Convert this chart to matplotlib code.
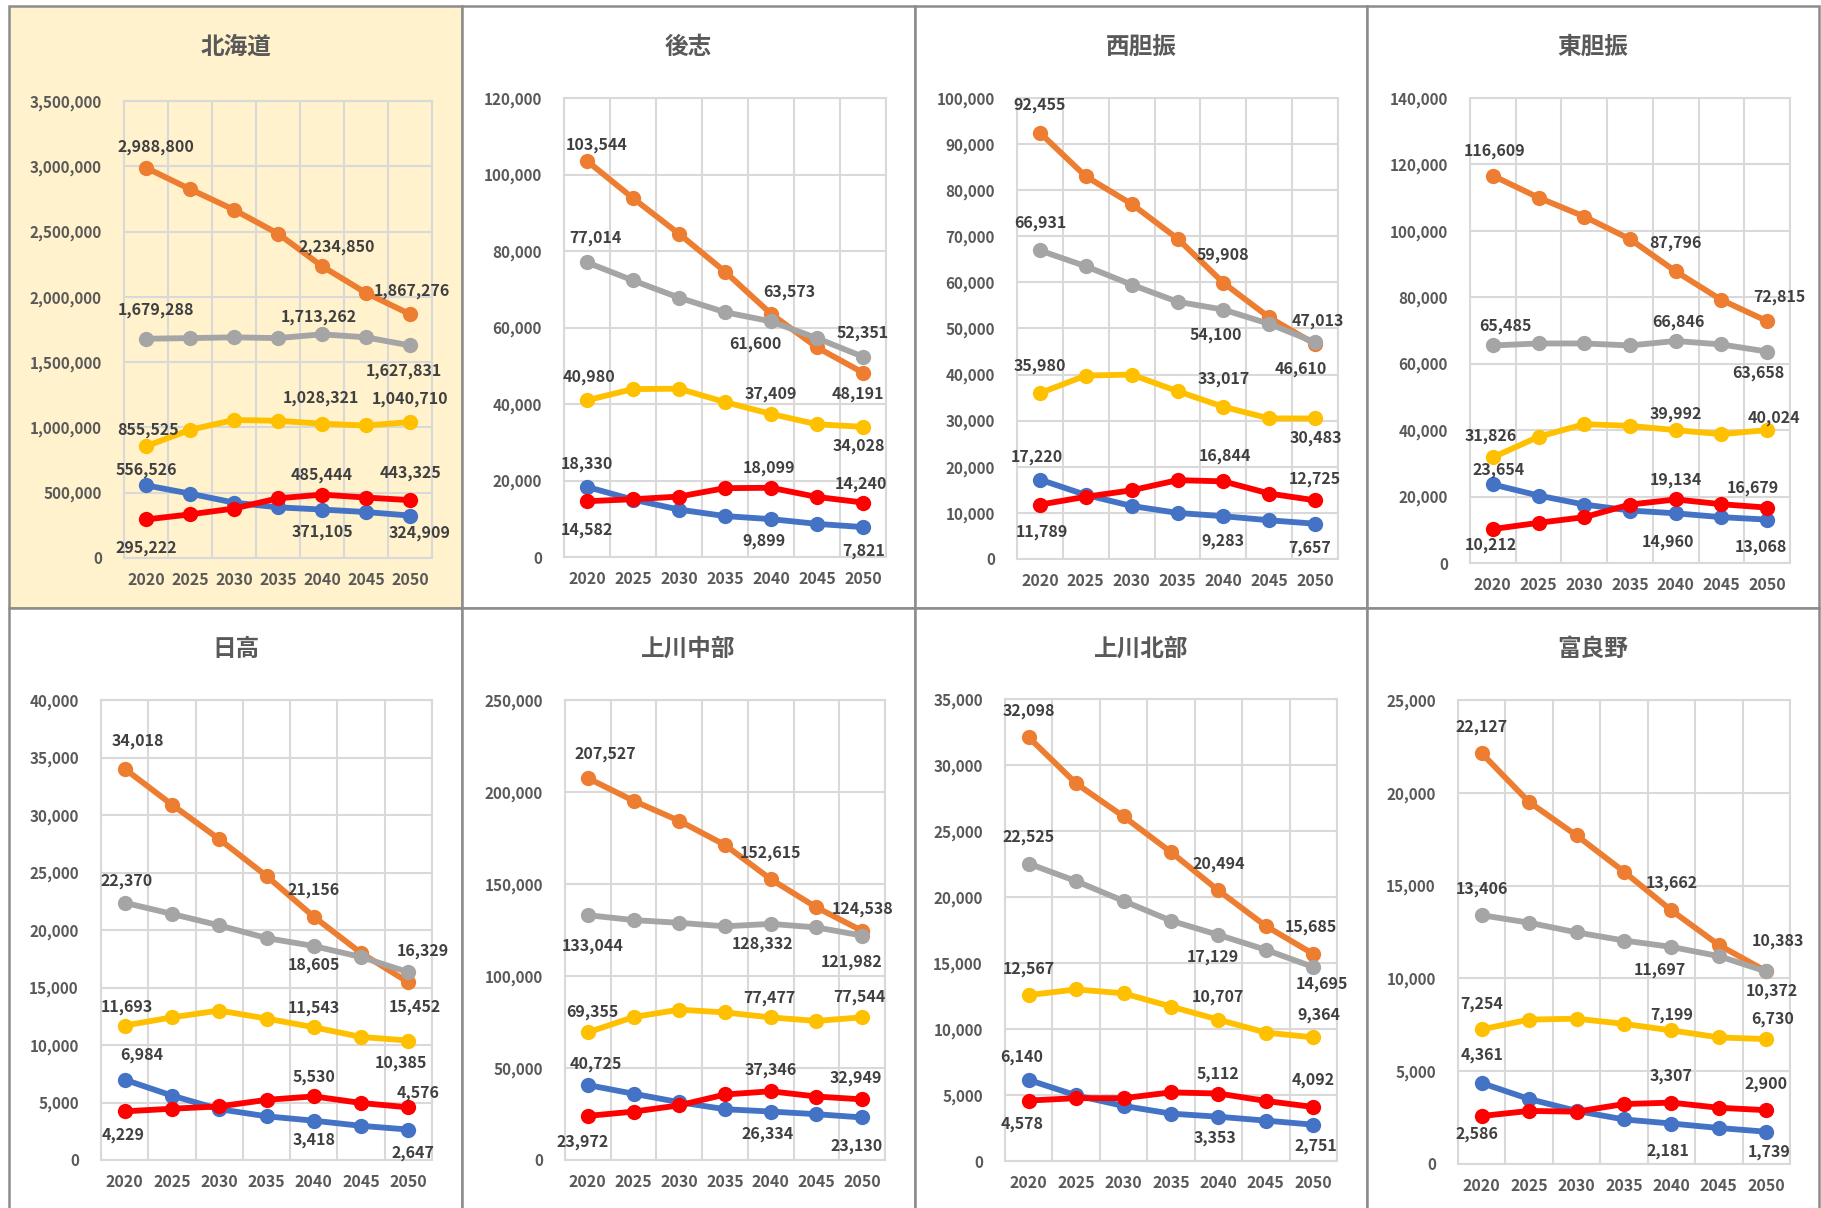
"""Hokkaido sub-prefecture population projections by age band, 2020-2050."""

import matplotlib

matplotlib.use("Agg")
import matplotlib.pyplot as plt
import numpy as np
from matplotlib.patches import Rectangle
from matplotlib.ticker import FuncFormatter, MultipleLocator

plt.rcParams["font.family"] = ["Noto Sans CJK JP", "DejaVu Sans"]

# ---- data -----------------------------------------------------------------
YEARS = ["2020", "2025", "2030", "2035", "2040", "2045", "2050"]
REGIONS = ["北海道", "後志", "西胆振", "東胆振", "日高", "上川中部", "上川北部", "富良野"]

AGE_0_14 = {
    "北海道": [556526, 493000, 424000, 388000, 371105, 352000, 324909],
    "後志": [18330, 15000, 12400, 10700, 9899, 8660, 7821],
    "西胆振": [17220, 13900, 11500, 10000, 9283, 8400, 7657],
    "東胆振": [23654, 20300, 17600, 15800, 14960, 13800, 13068],
    "日高": [6984, 5600, 4420, 3800, 3418, 2970, 2647],
    "上川中部": [40725, 36000, 31400, 27600, 26334, 24900, 23130],
    "上川北部": [6140, 4970, 4170, 3590, 3353, 3060, 2751],
    "富良野": [4361, 3500, 2860, 2400, 2181, 1940, 1739],
}
AGE_15_64 = {
    "北海道": [2988800, 2825000, 2667000, 2484000, 2234850, 2030000, 1867276],
    "後志": [103544, 93800, 84500, 74600, 63573, 54800, 48191],
    "西胆振": [92455, 83000, 77000, 69500, 59908, 52400, 46610],
    "東胆振": [116609, 110000, 104300, 97500, 87796, 79200, 72815],
    "日高": [34018, 30900, 27900, 24700, 21156, 18000, 15452],
    "上川中部": [207527, 195200, 184300, 171200, 152615, 137300, 124538],
    "上川北部": [32098, 28600, 26100, 23400, 20494, 17800, 15685],
    "富良野": [22127, 19500, 17700, 15750, 13662, 11800, 10383],
}
AGE_65_PLUS = {
    "北海道": [1679288, 1684000, 1690000, 1684000, 1713262, 1690000, 1627831],
    "後志": [77014, 72300, 67800, 64000, 61600, 57200, 52351],
    "西胆振": [66931, 63500, 59500, 55800, 54100, 51000, 47013],
    "東胆振": [65485, 66100, 66100, 65500, 66846, 65800, 63658],
    "日高": [22370, 21400, 20400, 19300, 18605, 17650, 16329],
    "上川中部": [133044, 130400, 128900, 127000, 128332, 126400, 121982],
    "上川北部": [22525, 21200, 19700, 18200, 17129, 16000, 14695],
    "富良野": [13406, 13000, 12480, 12040, 11697, 11200, 10372],
}
AGE_75_PLUS = {
    "北海道": [855525, 982000, 1057000, 1051000, 1028321, 1015000, 1040710],
    "後志": [40980, 43900, 44000, 40500, 37409, 34700, 34028],
    "西胆振": [35980, 39800, 40000, 36400, 33017, 30500, 30483],
    "東胆振": [31826, 38000, 41800, 41300, 39992, 38800, 40024],
    "日高": [11693, 12400, 13000, 12300, 11543, 10700, 10385],
    "上川中部": [69355, 77700, 81700, 80200, 77477, 75600, 77544],
    "上川北部": [12567, 13000, 12700, 11700, 10707, 9730, 9364],
    "富良野": [7254, 7780, 7830, 7550, 7199, 6820, 6730],
}
AGE_85_PLUS = {
    "北海道": [295222, 334000, 379000, 457000, 485444, 463000, 443325],
    "後志": [14582, 15100, 15800, 18000, 18099, 15700, 14240],
    "西胆振": [11789, 13500, 14900, 17100, 16844, 14200, 12725],
    "東胆振": [10212, 12100, 13800, 17600, 19134, 17700, 16679],
    "日高": [4229, 4460, 4660, 5230, 5530, 4960, 4576],
    "上川中部": [23972, 26300, 29700, 35600, 37346, 34500, 32949],
    "上川北部": [4578, 4760, 4760, 5200, 5112, 4550, 4092],
    "富良野": [2586, 2860, 2820, 3230, 3307, 3030, 2900],
}

Y_MAX = [3500000, 120000, 100000, 140000, 40000, 250000, 35000, 25000]
Y_STEP = [500000, 20000, 10000, 20000, 5000, 50000, 5000, 5000]

# ---- style / layout -------------------------------------------------------
# drawing order matches the Excel series order (later ones sit on top)
SERIES = [
    ("0_14", AGE_0_14, "#4472C4"),
    ("15_64", AGE_15_64, "#ED7D31"),
    ("65+", AGE_65_PLUS, "#A5A5A5"),
    ("75+", AGE_75_PLUS, "#FFC000"),
    ("85+", AGE_85_PLUS, "#FF0000"),
]
LABELLED = [0, 4, 6]   # only 2020, 2040, 2050 carry data labels

# label centre relative to marker, in pixels (x right, y down)
LABEL_OFFSETS = {
    "北海道": {"15_64": [(10, -22), (15, -21), (2, -25)],
             "65+": [(10, -30), (-3, -19), (-6, 24)],
             "75+": [(2, -18), (-1, -27), (0, -25)],
             "0_14": [(0, -17), (0, 21), (10, 16)],
             "85+": [(0, 27), (0, -21), (0, -29)]},
    "後志": {"15_64": [(10, -17), (18, -23), (-5, 20)],
           "65+": [(8, -26), (-16, 21), (0, -25)],
           "75+": [(2, -25), (0, -21), (-4, 18)],
           "0_14": [(0, -24), (-7, 20), (1, 22)],
           "85+": [(0, 27), (-2, -21), (-2, -20)]},
    "西胆振": {"15_64": [(0, -29), (0, -29), (-14, 23)],
            "65+": [(0, -29), (-8, 24), (3, -23)],
            "75+": [(0, -29), (0, -29), (1, 18)],
            "0_14": [(-3, -24), (0, 23), (-5, 23)],
            "85+": [(2, 26), (2, -27), (0, -23)]},
    "東胆振": {"15_64": [(2, -26), (0, -30), (12, -26)],
            "65+": [(13, -21), (3, -20), (-9, 20)],
            "75+": [(-2, -23), (0, -18), (7, -13)],
            "0_14": [(6, -16), (-8, 27), (-6, 26)],
            "85+": [(-2, 14), (0, -21), (-14, -21)]},
    "日高": {"15_64": [(13, -29), (0, -28), (7, 23)],
           "65+": [(2, -23), (0, 18), (15, -23)],
           "75+": [(2, -20), (0, -21), (-7, 21)],
           "0_14": [(17, -26), (0, 18), (5, 22)],
           "85+": [(-2, 22), (0, -21), (10, -16)]},
    "上川中部": {"15_64": [(17, -26), (0, -28), (0, -23)],
             "65+": [(5, 29), (-8, 19), (-11, 25)],
             "75+": [(5, -22), (-1, -21), (-3, -22)],
             "0_14": [(8, -22), (-3, 21), (-6, 27)],
             "85+": [(-5, 25), (0, -23), (-6, -23)]},
    "上川北部": {"15_64": [(0, -28), (0, -28), (-2, -28)],
             "65+": [(0, -28), (-6, 21), (9, 16)],
             "75+": [(0, -28), (0, -24), (6, -24)],
             "0_14": [(-7, -24), (-3, 20), (3, 20)],
             "85+": [(-7, 22), (0, -21), (0, -28)]},
    "富良野": {"15_64": [(0, -28), (0, -29), (12, -32)],
            "65+": [(0, -28), (-12, 22), (6, 18)],
            "75+": [(0, -27), (0, -17), (6, -22)],
            "0_14": [(0, -29), (-3, 26), (3, 19)],
            "85+": [(-5, 17), (0, -28), (0, -28)]},
}

W, H = 1821, 1208
# plot-area boxes in pixels: left, top, right, bottom
AXES_BOX = [
    (124, 101, 432, 558), (564, 98, 886, 557), (1017, 98, 1338, 559), (1470, 98, 1790, 563),
    (101, 700, 432, 1160), (565, 700, 885, 1160), (1005, 699, 1337, 1161), (1458, 700, 1790, 1164),
]
COL_EDGES = [9, 462, 915, 1367, 1819]
ROW_EDGES = [6, 608, 1216]

GRID = "#D9D9D9"
TICK_TEXT = "#595959"
LABEL_TEXT = "#404040"
FRAME = "#8C8C8C"
HIGHLIGHT = "#FFF2CC"

fig = plt.figure(figsize=(W / 100, H / 100), dpi=100)

# panel frames (first one highlighted)
for k in range(8):
    r, c = divmod(k, 4)
    x0, x1 = COL_EDGES[c], COL_EDGES[c + 1]
    y0, y1 = ROW_EDGES[r], ROW_EDGES[r + 1]
    fig.add_artist(Rectangle((x0 / W, 1 - y1 / H), (x1 - x0) / W, (y1 - y0) / H,
                             transform=fig.transFigure, facecolor=HIGHLIGHT if k == 0 else "white",
                             edgecolor=FRAME, linewidth=1.8, zorder=-5))
    fig.text((x0 + x1) / 2 / W, 1 - (y0 + 41) / H, REGIONS[k], ha="center", va="center",
             fontsize=17, fontweight="bold", color=TICK_TEXT)

x = np.arange(len(YEARS))
for k, region in enumerate(REGIONS):
    left, top, right, bottom = AXES_BOX[k]
    ax = fig.add_axes([left / W, 1 - bottom / H, (right - left) / W, (bottom - top) / H])
    ax.set_facecolor("none" if k == 0 else "white")

    ax.set_xlim(-0.5, len(YEARS) - 0.5)
    ax.set_ylim(0, Y_MAX[k])
    ax.set_xticks(x)
    ax.set_xticklabels(YEARS)
    ax.set_xticks(np.arange(-0.5, len(YEARS), 1), minor=True)
    ax.yaxis.set_major_locator(MultipleLocator(Y_STEP[k]))
    ax.yaxis.set_major_formatter(FuncFormatter(lambda v, _: f"{v:,.0f}"))
    ax.grid(which="minor", axis="x", color=GRID, linewidth=1.5)
    ax.grid(which="major", axis="y", color=GRID, linewidth=1.5)
    ax.tick_params(which="both", length=0)
    ax.tick_params(axis="y", pad=16, labelsize=11, labelcolor=TICK_TEXT)
    ax.tick_params(axis="x", pad=10, labelsize=11.5, labelcolor=TICK_TEXT)
    for lab in ax.get_xticklabels() + ax.get_yticklabels():
        lab.set_fontweight("bold")
    for sp in ax.spines.values():
        sp.set_color(GRID)
        sp.set_linewidth(1.5)
    ax.set_axisbelow(True)

    for key, table, color in SERIES:
        vals = table[region]
        ax.plot(x, vals, "-o", color=color, linewidth=4.2, markersize=11,
                markeredgewidth=0, clip_on=False, solid_capstyle="round")
        for idx, (dx, dy) in zip(LABELLED, LABEL_OFFSETS[region][key]):
            ax.annotate(f"{vals[idx]:,}", xy=(idx, vals[idx]), xytext=(dx, -(dy + 6)),
                        textcoords="offset pixels", ha="center", va="baseline",
                        fontsize=11.5, fontweight="bold", color=LABEL_TEXT,
                        annotation_clip=False, zorder=10)

fig.savefig("out.png", dpi=100, facecolor="white")
